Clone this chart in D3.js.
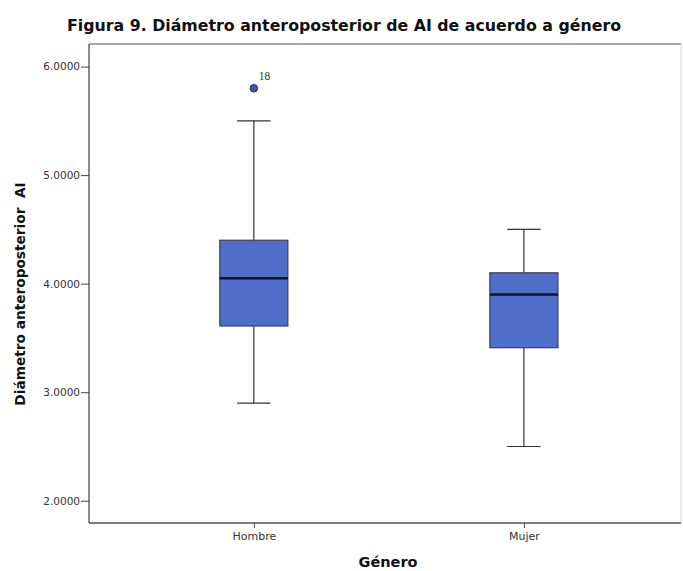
<!DOCTYPE html>
<html>
<head>
<meta charset="utf-8">
<script src="https://cdn.jsdelivr.net/npm/d3@7"></script>
<style>
  html, body { margin: 0; padding: 0; background: #ffffff; }
  svg { display: block; }
</style>
</head>
<body>
<script>
// Box-plot summary per gender group
const categories = ["Hombre", "Mujer"];
const whiskerLow  = [2.90, 2.50];
const q1Values    = [3.61, 3.41];
const medians     = [4.05, 3.90];
const q3Values    = [4.40, 4.10];
const whiskerHigh = [5.50, 4.50];
// Outliers: category, value, case label
const outlierGroup = ["Hombre"];
const outlierValue = [5.80];
const outlierLabel = ["18"];
const yTicks = [2, 3, 4, 5, 6];

const W = 683, H = 571;
const plotL = 89, plotR = 681, plotT = 44, plotB = 523;

const svg = d3.select("body").append("svg")
  .attr("width", W).attr("height", H);

const y = d3.scaleLinear().domain([1.795, 6.208]).range([plotB, plotT]);
const x = d3.scalePoint().domain(categories).range([plotL, plotR])
  .padding(0.596).align(0.512);

const boxW = x.step() * 0.252;
const capW = boxW * 0.49;

// Plot frame (top and right edges)
svg.append("line").attr("x1", plotL).attr("x2", plotR).attr("y1", plotT).attr("y2", plotT)
  .attr("stroke", "#8a8a8a").attr("stroke-width", 1.5);
svg.append("line").attr("x1", plotR).attr("x2", plotR).attr("y1", plotT).attr("y2", plotB)
  .attr("stroke", "#d8d8d8").attr("stroke-width", 1);

// Y axis
const yAxis = d3.axisLeft(y).tickValues(yTicks).tickFormat(d3.format(".4f"))
  .tickSize(8).tickPadding(1);
const gy = svg.append("g").attr("transform", `translate(${plotL},0)`).call(yAxis);
gy.select(".domain").attr("d", `M0,${plotT}V${plotB}`).attr("stroke", "#666").attr("stroke-width", 1.5);
gy.selectAll(".tick line").attr("stroke", "#444");
gy.selectAll(".tick text").attr("fill", "#333")
  .style("font-family", "DejaVu Sans").style("font-size", "10.5px");

// X axis
const xAxis = d3.axisBottom(x).tickSize(5).tickPadding(4);
const gx = svg.append("g").attr("transform", `translate(0,${plotB})`).call(xAxis);
gx.select(".domain").attr("d", `M${plotL},0H${plotR}`).attr("stroke", "#555").attr("stroke-width", 1.5);
gx.selectAll(".tick line").attr("stroke", "#444");
gx.selectAll(".tick text").attr("fill", "#333")
  .style("font-family", "DejaVu Sans").style("font-size", "11px");

// Boxes
const rows = categories.map((c, i) => ({
  c, lo: whiskerLow[i], q1: q1Values[i], med: medians[i], q3: q3Values[i], hi: whiskerHigh[i]
}));

const g = svg.append("g").selectAll("g").data(rows).join("g");

// whisker stems
g.append("line")
  .attr("x1", d => x(d.c)).attr("x2", d => x(d.c))
  .attr("y1", d => y(d.hi)).attr("y2", d => y(d.q3))
  .attr("stroke", "#333").attr("stroke-width", 1.2);
g.append("line")
  .attr("x1", d => x(d.c)).attr("x2", d => x(d.c))
  .attr("y1", d => y(d.q1)).attr("y2", d => y(d.lo))
  .attr("stroke", "#333").attr("stroke-width", 1.2);
// whisker caps
g.append("line")
  .attr("x1", d => x(d.c) - capW / 2).attr("x2", d => x(d.c) + capW / 2)
  .attr("y1", d => y(d.hi)).attr("y2", d => y(d.hi))
  .attr("stroke", "#333").attr("stroke-width", 1.2);
g.append("line")
  .attr("x1", d => x(d.c) - capW / 2).attr("x2", d => x(d.c) + capW / 2)
  .attr("y1", d => y(d.lo)).attr("y2", d => y(d.lo))
  .attr("stroke", "#333").attr("stroke-width", 1.2);
// interquartile box
g.append("rect")
  .attr("x", d => x(d.c) - boxW / 2).attr("width", boxW)
  .attr("y", d => y(d.q3)).attr("height", d => y(d.q1) - y(d.q3))
  .attr("fill", "#4f6fcb").attr("stroke", "#3a3f55").attr("stroke-width", 1.2);
// median
g.append("line")
  .attr("x1", d => x(d.c) - boxW / 2).attr("x2", d => x(d.c) + boxW / 2)
  .attr("y1", d => y(d.med)).attr("y2", d => y(d.med))
  .attr("stroke", "#0d1330").attr("stroke-width", 2.5);

// Outliers
const outliers = outlierGroup.map((c, i) => ({ c, v: outlierValue[i], label: outlierLabel[i] }));
svg.append("g").selectAll("circle").data(outliers).join("circle")
  .attr("cx", d => x(d.c)).attr("cy", d => y(d.v)).attr("r", 3.8)
  .attr("fill", "#4b52b0").attr("stroke", "#2a2d5a").attr("stroke-width", 1);
svg.append("g").selectAll("text").data(outliers).join("text")
  .attr("x", d => x(d.c) + 5).attr("y", d => y(d.v) - 8)
  .attr("fill", "#333")
  .style("font-family", "Liberation Serif").style("font-size", "11.5px")
  .text(d => d.label);

// Titles
svg.append("text")
  .attr("x", 344).attr("y", 31).attr("text-anchor", "middle")
  .attr("fill", "#111")
  .style("font-family", "DejaVu Sans").style("font-weight", "bold").style("font-size", "15.8px")
  .text("Figura 9. Diámetro anteroposterior de AI de acuerdo a género");

svg.append("text")
  .attr("transform", "translate(25,294) rotate(-90)")
  .attr("text-anchor", "middle")
  .attr("fill", "#111")
  .style("font-family", "DejaVu Sans").style("font-weight", "bold").style("font-size", "13.7px")
  .style("white-space", "pre")
  .text("Diámetro anteroposterior  AI");

svg.append("text")
  .attr("x", 388).attr("y", 567).attr("text-anchor", "middle")
  .attr("fill", "#111")
  .style("font-family", "DejaVu Sans").style("font-weight", "bold").style("font-size", "14.5px")
  .text("Género");
</script>
</body>
</html>
